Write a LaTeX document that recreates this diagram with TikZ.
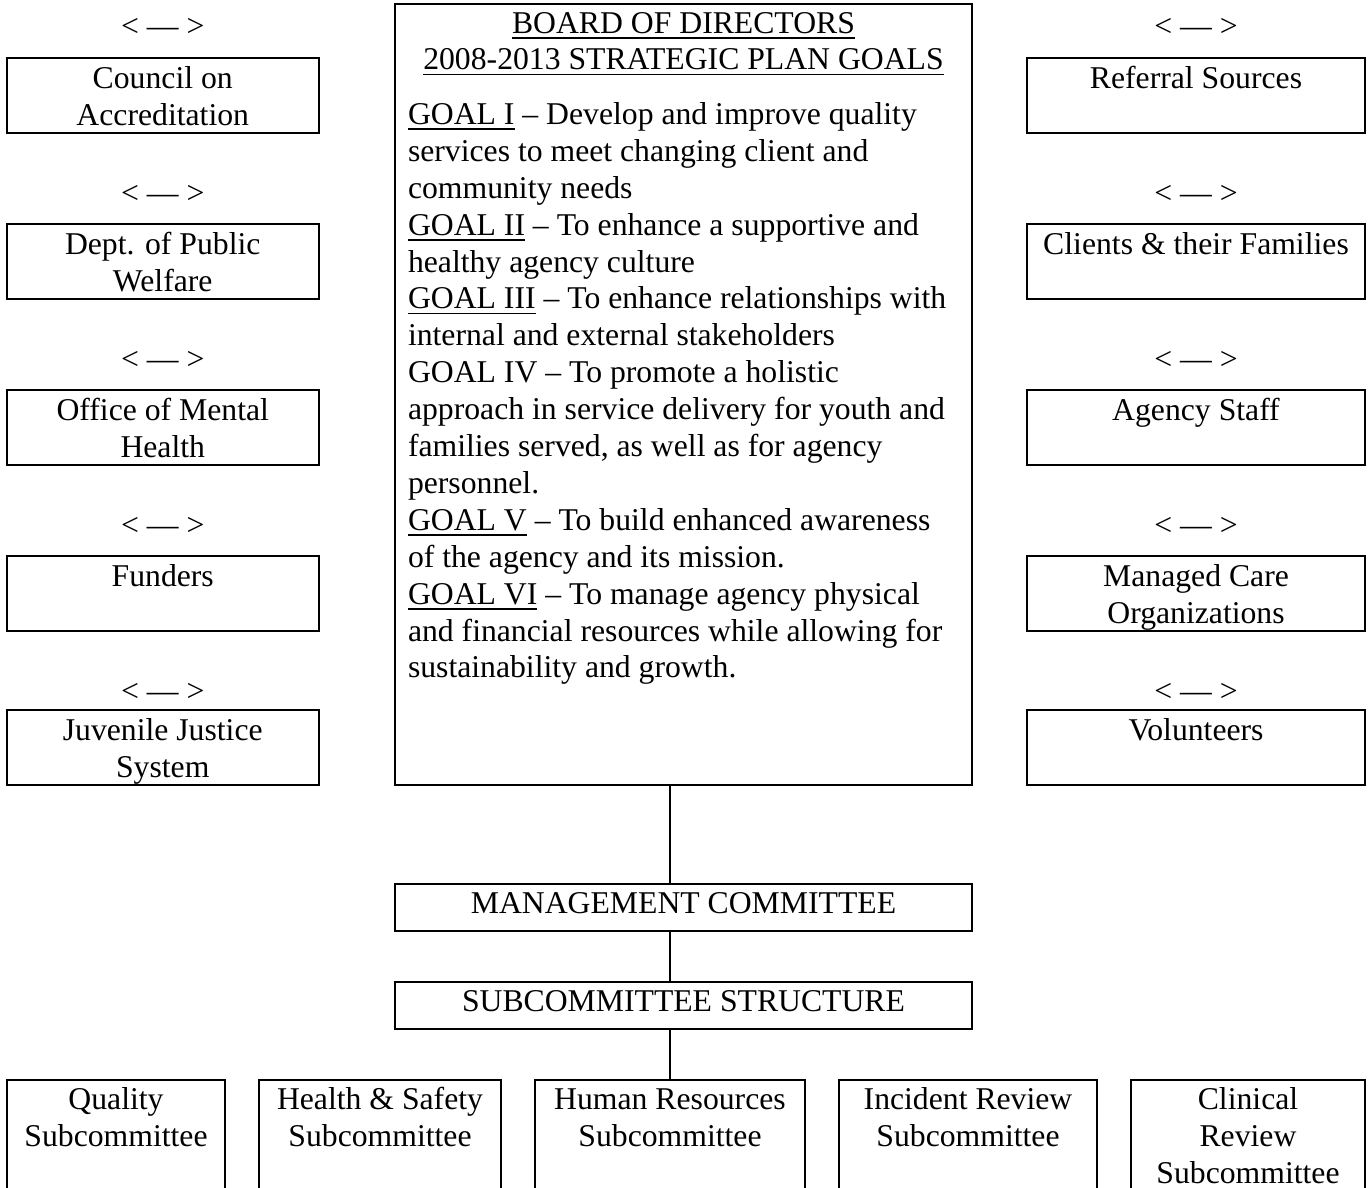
\documentclass[tikz,border=0pt]{standalone}
\usepackage{fontspec}
\setmainfont{Liberation Serif}
\usetikzlibrary{calc}
\newcommand{\ulnew}[1]{\setbox0\hbox{#1}\rlap{\rule[-5.5pt]{\wd0}{1.8pt}}\box0\relax}
\begin{document}
\begin{tikzpicture}[x=1pt,y=-1pt,
  box/.style={draw, line width=2pt, rectangle, inner sep=0pt, outer sep=0pt, anchor=north west},
  txt/.style={inner sep=0pt, outer sep=0pt, align=center, anchor=north, font=\fontsize{31.7}{36.9}\selectfont},
  arr/.style={inner sep=0pt, outer sep=0pt, anchor=base, font=\fontsize{31.7}{36.9}\selectfont},
  link/.style={line width=1.3pt}]
\useasboundingbox (0,0) rectangle (1370,1188);
\clip (0,0) rectangle (1370,1188);

% left column
\node[box, minimum width=311.5pt, minimum height=75pt] (l1) at (7,58) {};
\node[box, minimum width=311.5pt, minimum height=75pt] (l2) at (7,224) {};
\node[box, minimum width=311.5pt, minimum height=75pt] (l3) at (7,390) {};
\node[box, minimum width=311.5pt, minimum height=75pt] (l4) at (7,556) {};
\node[box, minimum width=311.5pt, minimum height=75pt] (l5) at (7,710) {};
\node[txt] (l1t) at ($(l1.north)+(0,4.5)$) {\strut Council on\\Accreditation};
\node[txt] (l2t) at ($(l2.north)+(0,4.5)$) {\strut Dept. of Public\\Welfare};
\node[txt] (l3t) at ($(l3.north)+(0,4.5)$) {\strut Office of Mental\\Health};
\node[txt] (l4t) at ($(l4.north)+(0,4.5)$) {\strut Funders};
\node[txt] (l5t) at ($(l5.north)+(0,4.5)$) {\strut Juvenile Justice\\System};
\node[arr] (la1) at (162.75,37) {< --- >};
\node[arr] (la2) at (162.75,203) {< --- >};
\node[arr] (la3) at (162.75,369) {< --- >};
\node[arr] (la4) at (162.75,535) {< --- >};
\node[arr] (la5) at (162.75,701) {< --- >};

% right column
\node[box, minimum width=338pt, minimum height=75pt] (r1) at (1027,58) {};
\node[box, minimum width=338pt, minimum height=75pt] (r2) at (1027,224) {};
\node[box, minimum width=338pt, minimum height=75pt] (r3) at (1027,390) {};
\node[box, minimum width=338pt, minimum height=75pt] (r4) at (1027,556) {};
\node[box, minimum width=338pt, minimum height=75pt] (r5) at (1027,710) {};
\node[txt] (r1t) at ($(r1.north)+(0,4.5)$) {\strut Referral Sources};
\node[txt] (r2t) at ($(r2.north)+(0,4.5)$) {\strut Clients \& their Families};
\node[txt] (r3t) at ($(r3.north)+(0,4.5)$) {\strut Agency Staff};
\node[txt] (r4t) at ($(r4.north)+(0,4.5)$) {\strut Managed Care\\Organizations};
\node[txt] (r5t) at ($(r5.north)+(0,4.5)$) {\strut Volunteers};
\node[arr] (ra1) at (1196,37) {< --- >};
\node[arr] (ra2) at (1196,203) {< --- >};
\node[arr] (ra3) at (1196,369) {< --- >};
\node[arr] (ra4) at (1196,535) {< --- >};
\node[arr] (ra5) at (1196,701) {< --- >};

% board
\node[box, minimum width=577pt, minimum height=781pt] (board) at (395,4) {};
\node[txt] (head) at ($(board.north)+(0,3.2)$) {\strut\ulnew{BOARD OF DIRECTORS}\\\ulnew{2008-2013 STRATEGIC PLAN GOALS}};
\node[txt, align=left, anchor=north west] (goals) at (408,98.6) {\strut\ulnew{GOAL I} -- Develop and improve quality\\
services to meet changing client and\\
community needs\\
\ulnew{GOAL II} -- To enhance a supportive and\\
healthy agency culture\\
\ulnew{GOAL III} -- To enhance relationships with\\
internal and external stakeholders\\
GOAL IV -- To promote a holistic\\
approach in service delivery for youth and\\
families served, as well as for agency\\
personnel.\\
\ulnew{GOAL V} -- To build enhanced awareness\\
of the agency and its mission.\\
\ulnew{GOAL VI} -- To manage agency physical\\
and financial resources while allowing for\\
sustainability and growth.};

% management and subcommittee structure
\node[box, minimum width=577pt, minimum height=47pt] (mgmt) at (395,884) {};
\node[arr] (mgmtt) at (683.5,913) {MANAGEMENT COMMITTEE};
\node[box, minimum width=577pt, minimum height=47.5pt] (sub) at (395,981.5) {};
\node[arr] (subt) at (683.5,1011) {SUBCOMMITTEE STRUCTURE};

% subcommittees
\node[box, minimum width=218pt, minimum height=200pt] (q) at (7,1080) {};
\node[box, minimum width=242pt, minimum height=200pt] (hs) at (259,1080) {};
\node[box, minimum width=270pt, minimum height=200pt] (hr) at (535,1080) {};
\node[box, minimum width=258pt, minimum height=200pt] (ir) at (839,1080) {};
\node[box, minimum width=234pt, minimum height=200pt] (cr) at (1131,1080) {};
\node[txt] (qt) at ($(q.north)+(0,4)$) {\strut Quality\\Subcommittee};
\node[txt] (hst) at ($(hs.north)+(0,4)$) {\strut Health \& Safety\\Subcommittee};
\node[txt] (hrt) at ($(hr.north)+(0,4)$) {\strut Human Resources\\Subcommittee};
\node[txt] (irt) at ($(ir.north)+(0,4)$) {\strut Incident Review\\Subcommittee};
\node[txt] (crt) at ($(cr.north)+(0,4)$) {\strut Clinical\\Review\\Subcommittee};

% connectors
\coordinate (spine) at (670,0);
\draw[link] (board.south -| spine) -- (mgmt.north -| spine);
\draw[link] (mgmt.south -| spine) -- (sub.north -| spine);
\draw[link] (sub.south -| spine) -- (hr.north -| spine);
\end{tikzpicture}
\end{document}
